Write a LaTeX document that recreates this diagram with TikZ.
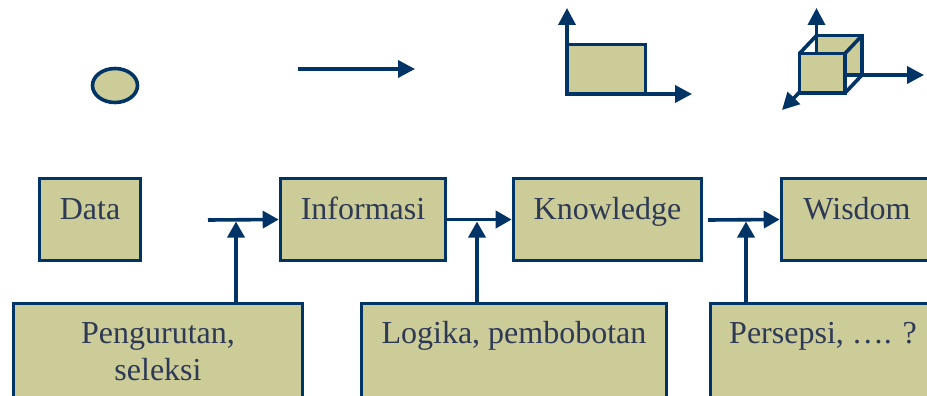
\documentclass[tikz,border=0pt]{standalone}
\usepackage{fontspec}
\setmainfont{Liberation Serif}
\usetikzlibrary{arrows.meta}
\definecolor{navy}{HTML}{003366}
\definecolor{olive}{HTML}{CCCC99}
\definecolor{ink}{HTML}{2E3A55}
\tikzset{
  box/.style={draw=navy, fill=olive, line width=3.6pt, inner sep=0pt,
    text=ink, font=\fontsize{32}{37}\selectfont, align=center},
  topbox/.style={box, minimum height=82pt, text height=21pt, text depth=22pt},
  lowbox/.style={box, minimum height=110pt, text height=21pt, text depth=52pt},
  % two-line label: the reference baseline is the last line
  lowbox2/.style={box, minimum height=110pt, text height=58pt, text depth=15pt},
  link/.style={draw=navy, line width=3.6pt, -{Triangle[length=16pt,width=17pt]}},
  icon/.style={draw=navy, line width=3.6pt, fill=olive},
  axis/.style={draw=navy, line width=3.6pt, -{Triangle[length=17pt,width=17pt]}}
}
\begin{document}
\begin{tikzpicture}[x=1pt, y=-1pt]
\useasboundingbox (0,0) rectangle (927,396);
\clip (0,0) rectangle (927,396);

% --- icons: point, line, plane, volume
\draw[icon] (115,85.5) ellipse [x radius=22.5, y radius=17];
\coordinate (l0) at (298,69);
\coordinate (l1) at (415,69);
\draw[axis] (l0) -- (l1);

\draw[icon] (567,44.5) rectangle (645.5,94);
\coordinate (o2) at (567,94);
\coordinate (y2) at (567,8);
\coordinate (x2) at (692,94);
\draw[axis] (o2) -- (y2);
\draw[axis] (o2) -- (x2);

\draw[icon] (816.5,35.5) rectangle (862,75);
\coordinate (o3) at (816.5,75);
\coordinate (y3) at (816.5,8);
\coordinate (x3) at (924,75);
\coordinate (z3) at (782,110);
\draw[axis] (o3) -- (y3);
\draw[axis] (o3) -- (x3);
\draw[axis] (o3) -- (z3);
\draw[icon] (799.5,53.5) rectangle (845,93);
\draw[navy, line width=3.6pt] (799.5,53.5) -- (816.5,35.5)
  (845,53.5) -- (862,35.5) (845,93) -- (862,75);

% --- hierarchy
\node[topbox, minimum width=101pt] (data) at (90,219.5) {Data};
\node[topbox, minimum width=165pt] (info) at (363,219.5) {Informasi};
\node[topbox, minimum width=188pt] (know) at (607.5,219.5) {Knowledge};
\node[topbox, minimum width=151pt] (wis) at (857,219.5) {Wisdom};

\node[lowbox2, minimum width=289pt] (peng) at (158,358.5) {Pengurutan,\\seleksi};
\node[lowbox, minimum width=305pt] (logi) at (514,358.5) {Logika, pembobotan};
\node[lowbox, minimum width=225pt] (pers) at (823,358.5) {Persepsi, …. ?};

% --- flow
\coordinate (s1) at (208,220);
\coordinate (s3) at (708,220);
\draw[link] (s1) -- (info.west);
\draw[link] (info.east) -- (know.west);
\draw[link] (s3) -- (wis.west);

\coordinate (a1) at (236,221.5);
\coordinate (a2) at (477,221.5);
\coordinate (a3) at (746,221.5);
\draw[link] (peng.north -| a1) -- (a1);
\draw[link] (logi.north -| a2) -- (a2);
\draw[link] (pers.north -| a3) -- (a3);
\end{tikzpicture}
\end{document}
